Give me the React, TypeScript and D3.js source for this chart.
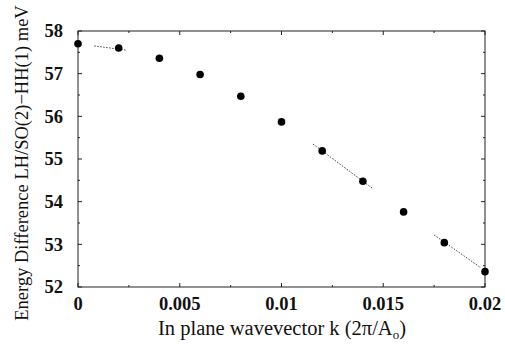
import React from "react";
import * as d3 from "d3";

const kValues = [0, 0.002, 0.004, 0.006, 0.008, 0.01, 0.012, 0.014, 0.016, 0.018, 0.02];
const energyValues = [57.7, 57.6, 57.36, 56.98, 56.47, 55.87, 55.19, 54.48, 53.76, 53.04, 52.36];
// fitted dotted segments: [kStart, eStart, kEnd, eEnd]
const fitSegments = [
  [0.0008, 57.65, 0.0024, 57.55],
  [0.01155, 55.35, 0.01445, 54.32],
  [0.0175, 53.22, 0.0198, 52.45],
];
const xMajorTicks = [0, 0.005, 0.01, 0.015, 0.02];
const xTickLabels = ["0", "0.005", "0.01", "0.015", "0.02"];
const yMajorTicks = [52, 53, 54, 55, 56, 57, 58];
const xTitle = "In plane wavevector k (2\u03c0/A";
const yTitle = "Energy Difference LH/SO(2)\u2212HH(1) meV";

export default function App() {
  const W = 505, H = 345;
  const left = 78, right = 485, top = 31, bottom = 287;
  const x = d3.scaleLinear().domain([0, 0.02]).range([left, right]);
  const y = d3.scaleLinear().domain([52, 58]).range([bottom, top]);
  const xMinor = d3.range(0, 0.0201, 0.0025).filter((v) => !xMajorTicks.some((m) => Math.abs(m - v) < 1e-9));
  const yMinor = d3.range(52.5, 58, 1);
  const font = "'Liberation Serif', 'Times New Roman', serif";
  const line = d3.line<number[]>().x((d) => x(d[0])).y((d) => y(d[1]));
  return (
    <svg width={W} height={H} style={{ position: "absolute", left: 0, top: 0, background: "#fff" }}>
      <rect x={left} y={top} width={right - left} height={bottom - top} fill="none" stroke="#222" strokeWidth={1} />
      {xMajorTicks.map((t, i) => (
        <g key={"xt" + i}>
          <line x1={x(t)} x2={x(t)} y1={bottom} y2={bottom - 4} stroke="#222" />
          <line x1={x(t)} x2={x(t)} y1={top} y2={top + 4} stroke="#222" />
          <text x={x(t)} y={310} textAnchor="middle" fontFamily={font} fontSize={18.5} fontWeight="bold" fill="#111">
            {xTickLabels[i]}
          </text>
        </g>
      ))}
      {xMinor.map((t, i) => (
        <g key={"xm" + i}>
          <line x1={x(t)} x2={x(t)} y1={bottom} y2={bottom - 2} stroke="#222" />
          <line x1={x(t)} x2={x(t)} y1={top} y2={top + 2} stroke="#222" />
        </g>
      ))}
      {yMajorTicks.map((t, i) => (
        <g key={"yt" + i}>
          <line x1={left} x2={left + 4} y1={y(t)} y2={y(t)} stroke="#222" />
          <line x1={right} x2={right - 4} y1={y(t)} y2={y(t)} stroke="#222" />
          <text x={63} y={y(t)} dy="0.35em" textAnchor="end" fontFamily={font} fontSize={18.5} fontWeight="bold" fill="#111">
            {t}
          </text>
        </g>
      ))}
      {yMinor.map((t, i) => (
        <g key={"ym" + i}>
          <line x1={left} x2={left + 2} y1={y(t)} y2={y(t)} stroke="#222" />
          <line x1={right} x2={right - 2} y1={y(t)} y2={y(t)} stroke="#222" />
        </g>
      ))}
      {fitSegments.map((s, i) => (
        <path
          key={"f" + i}
          d={line([[s[0], s[1]], [s[2], s[3]]]) || ""}
          fill="none"
          stroke="#444"
          strokeWidth={1}
          strokeDasharray="1.5,1.5"
        />
      ))}
      {kValues.map((k, i) => (
        <circle key={"p" + i} cx={x(k)} cy={y(energyValues[i])} r={3.8} fill="#000" />
      ))}
      <text x={282} y={335} textAnchor="middle" fontFamily={font} fontSize={20.5} fill="#111">
        {xTitle}
        <tspan fontSize={13} dy={4}>o</tspan>
        <tspan dy={-4}>)</tspan>
      </text>
      <text
        transform={`translate(28, ${163}) rotate(-90)`}
        textAnchor="middle"
        fontFamily={font}
        fontSize={18.5}
        fill="#111"
      >
        {yTitle}
      </text>
    </svg>
  );
}
